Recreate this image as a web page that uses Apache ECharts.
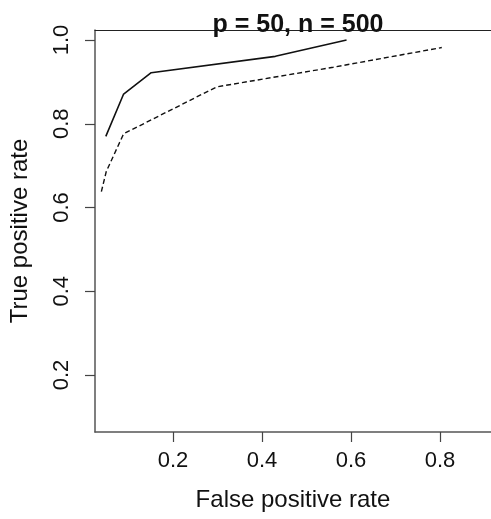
<!DOCTYPE html>
<html>
<head>
<meta charset="utf-8">
<script src="https://cdn.jsdelivr.net/npm/echarts@6/dist/echarts.min.js"></script>
<style>
  html, body { margin: 0; padding: 0; background: #fff; }
  #chart { width: 491px; height: 519px; }
</style>
</head>
<body>
<div id="chart"></div>
<script>
// ROC curves, p = 50, n = 500
const titleText = 'p = 50, n = 500';
const xTicks = [0.2, 0.4, 0.6, 0.8];
const yTicks = [0.2, 0.4, 0.6, 0.8, 1.0];

// solid curve
const solidFpr = [0.049, 0.089, 0.151, 0.43, 0.59];
const solidTpr = [0.77, 0.871, 0.922, 0.961, 1.0];

// dashed curve
const dashFpr = [0.039, 0.05, 0.089, 0.298, 0.56, 0.804];
const dashTpr = [0.638, 0.686, 0.776, 0.888, 0.935, 0.982];

const font = '"Liberation Sans", Arial, sans-serif';
const xMin = 0.0247, xMax = 0.9146;

function pairs(xs, ys) {
  return xs.map((x, i) => [x, ys[i]]);
}

const myChart = echarts.init(document.getElementById('chart'));

const option = {
  backgroundColor: '#fff',
  animation: false,
  title: {
    text: titleText,
    left: 293,
    top: 8,
    textAlign: 'center',
    textStyle: { fontFamily: font, fontSize: 25, fontWeight: 'bold', color: '#111' }
  },
  grid: { left: 95, top: 30, bottom: 87, right: 0, show: false },
  xAxis: [
    {
      type: 'value',
      min: xMin,
      max: xMax,
      name: 'False positive rate',
      nameLocation: 'middle',
      nameGap: 56,
      nameTextStyle: { fontFamily: font, fontSize: 24, color: '#111' },
      axisLine: { show: true, lineStyle: { color: '#555', width: 1.5 } },
      axisTick: { show: true, length: 10, customValues: xTicks, lineStyle: { color: '#444', width: 1.2 } },
      axisLabel: {
        customValues: xTicks, margin: 18,
        fontFamily: font, fontSize: 22, color: '#111',
        formatter: v => v.toFixed(1)
      },
      splitLine: { show: false }
    },
    {
      // top frame line only
      type: 'value',
      position: 'top',
      min: xMin,
      max: xMax,
      axisLine: { show: true, lineStyle: { color: '#222', width: 1.2 } },
      axisTick: { show: false },
      axisLabel: { show: false },
      splitLine: { show: false }
    }
  ],
  yAxis: {
    type: 'value',
    min: 0.0639,
    max: 1.0239,
    name: 'True positive rate',
    nameLocation: 'middle',
    nameGap: 63,
    nameRotate: 90,
    nameTextStyle: { fontFamily: font, fontSize: 24, color: '#111' },
    axisLine: { show: true, lineStyle: { color: '#555', width: 1.5 } },
    axisTick: { show: true, length: 10, customValues: yTicks, lineStyle: { color: '#444', width: 1.2 } },
    axisLabel: {
      customValues: yTicks, margin: 22, rotate: 90,
      fontFamily: font, fontSize: 22, color: '#111',
      formatter: v => v.toFixed(1)
    },
    splitLine: { show: false }
  },
  series: [
    {
      type: 'line',
      data: pairs(solidFpr, solidTpr),
      symbol: 'none',
      lineStyle: { color: '#111', width: 1.6, type: 'solid' }
    },
    {
      type: 'line',
      data: pairs(dashFpr, dashTpr),
      symbol: 'none',
      lineStyle: { color: '#111', width: 1.4, type: [5, 3] }
    }
  ]
};

myChart.setOption(option);
</script>
</body>
</html>
